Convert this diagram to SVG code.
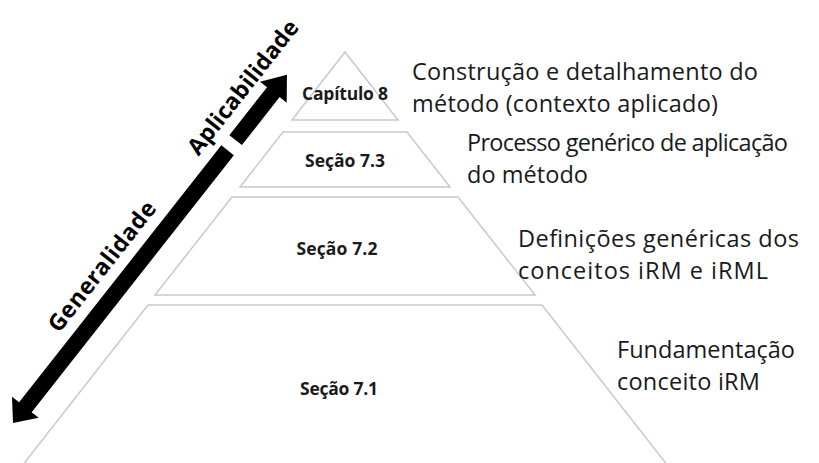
<svg xmlns="http://www.w3.org/2000/svg" width="819" height="463" viewBox="0 0 819 463">
<style>
.lvl{fill:#ffffff;stroke:#c9c9c9;stroke-width:1.5}
.lbl{font-family:"Open Sans","Liberation Sans",sans-serif;font-weight:bold;font-size:17.5px;fill:#1a1a1a;text-anchor:middle}
.desc{font-family:"Open Sans","Liberation Sans",sans-serif;font-size:23.5px;fill:#1a1a1a}
.axis{font-family:"Open Sans","Liberation Sans",sans-serif;font-weight:bold;font-size:23px;fill:#000;text-anchor:middle}
</style>
<rect width="819" height="463" fill="#ffffff"/>
<g id="level-cap8">
<polygon class="lvl" points="345,52 398,120 292,120"/>
<text class="lbl" x="345" y="100" textLength="86">Capítulo 8</text>
</g>
<g id="level-7-3">
<polygon class="lvl" points="283,132 407,132 450,187 240,187"/>
<text class="lbl" x="345" y="167" textLength="80">Seção 7.3</text>
</g>
<g id="level-7-2">
<polygon class="lvl" points="232,197 458,197 535,295 155,295"/>
<text class="lbl" x="337" y="255" textLength="81">Seção 7.2</text>
</g>
<g id="level-7-1">
<polygon class="lvl" points="148,305 542,305 679,480 11,480"/>
<text class="lbl" x="339" y="395" textLength="78">Seção 7.1</text>
</g>
<g id="descriptions">
<text class="desc" x="412" y="80" textLength="346">Construção e detalhamento do</text>
<text class="desc" x="412" y="112" textLength="306">método (contexto aplicado)</text>
<text class="desc" x="467" y="151" textLength="321">Processo genérico de aplicação</text>
<text class="desc" x="467" y="183" textLength="121">do método</text>
<text class="desc" x="518" y="247" textLength="281">Definições genéricas dos</text>
<text class="desc" x="518" y="279" textLength="250">conceitos iRM e iRML</text>
<text class="desc" x="617" y="358" textLength="178">Fundamentação</text>
<text class="desc" x="617" y="390" textLength="143">conceito iRM</text>
</g>
<g id="connectors" transform="translate(13,423) rotate(-51.8)">
<polygon fill="#000" points="0,0 20,-17 20,-8 347,-8 347,8 20,8 20,17"/>
<polygon fill="#000" points="360,-8 421,-8 421,-17 443,0 421,17 421,8 360,8"/>
<text class="axis" x="178" y="-19" textLength="159">Generalidade</text>
<text class="axis" x="406" y="-19" textLength="164">Aplicabilidade</text>
</g>
</svg>
